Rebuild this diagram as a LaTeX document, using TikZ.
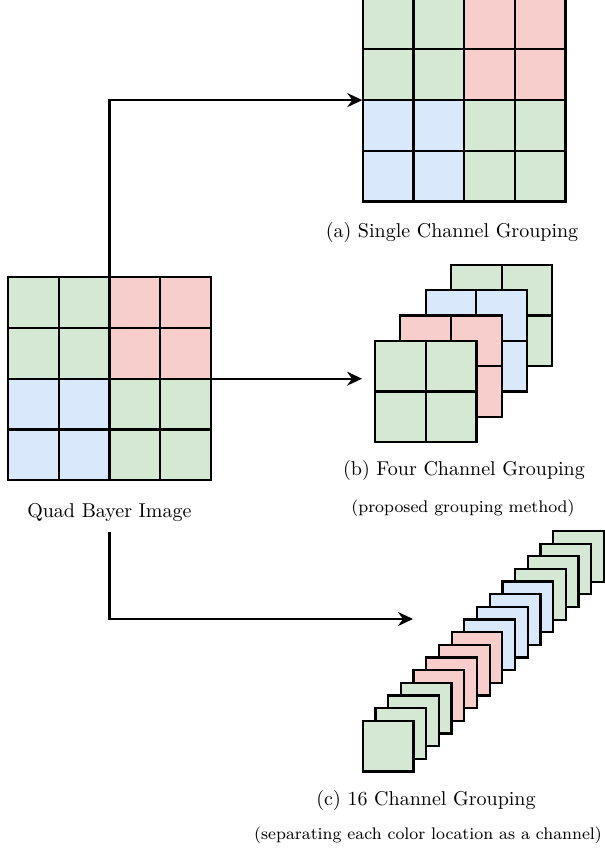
\documentclass[tikz,border=0pt]{standalone}
\usetikzlibrary{arrows.meta}

\definecolor{bayerGreen}{HTML}{D5E8D4}
\definecolor{bayerRed}{HTML}{F8CECC}
\definecolor{bayerBlue}{HTML}{DAE8FC}

\begin{document}
\begin{tikzpicture}[x = 0.5pt, y = -0.5pt,
    cell/.style = {draw = black, line width = 1.1pt},
    arrow/.style = {-{Stealth[length = 7.5pt, width = 7pt, inset = 2.5pt]}, line width = 1.1pt},
    subcaption/.style = {font = \fontsize{8.4}{10}\selectfont}]
    % Define dimensions
    \def\cellSize{50.7}   % side of one pixel
    \def\stackStep{25.3}  % shift between the four channel planes
    \def\thinStep{12.7}   % shift between the 16 channel planes

    \useasboundingbox (0,0) rectangle (604,855);

    % 4x4 quad bayer block, drawn from its top left corner
    \def\quadGrid{
        \foreach \rowColors [count = \r from 0] in
            {{bayerGreen,bayerGreen,bayerRed,bayerRed},
             {bayerGreen,bayerGreen,bayerRed,bayerRed},
             {bayerBlue,bayerBlue,bayerGreen,bayerGreen},
             {bayerBlue,bayerBlue,bayerGreen,bayerGreen}}
            \foreach \c [count = \k from 0] in \rowColors
                \draw[cell, fill = \c] (\k*\cellSize, \r*\cellSize) rectangle ++(\cellSize, \cellSize);
    }

    %Drawing input image
    \begin{scope}[shift = {(8,277.3)}]
        \quadGrid
    \end{scope}
    \node[inner sep = 0, minimum size = 101.4pt] (quad) at (109.4,378.7) {};
    \node (quadLabel) at (109.4,513) {Quad Bayer Image};

    %Drawing single channel grouping
    \begin{scope}[shift = {(362.7,-1.3)}]
        \quadGrid
    \end{scope}
    \node[inner sep = 0, minimum size = 101.4pt] (single) at (464.1,100.1) {};
    \node (singleLabel) at (452,233) {(a) Single Channel Grouping};

    %Drawing four channel grouping (back plane first)
    \foreach \n/\c in {3/bayerGreen, 2/bayerBlue, 1/bayerRed, 0/bayerGreen}
        \foreach \i in {0,1}
            \foreach \j in {0,1}
                \draw[cell, fill = \c] ({375 + \stackStep*\n + \i*\cellSize}, {340.7 - \stackStep*\n + \j*\cellSize})
                    rectangle ++(\cellSize, \cellSize);
    \coordinate (fourIn) at (362,378.7);
    \node (fourLabel) at (464,470) {(b) Four Channel Grouping};
    \node[subcaption] (fourNote) at (463,508) {(proposed grouping method)};

    %Drawing 16 channel grouping (back plane first)
    \foreach \c [count = \n] in {bayerGreen,bayerGreen,bayerGreen,bayerGreen,
                                 bayerBlue,bayerBlue,bayerBlue,bayerBlue,
                                 bayerRed,bayerRed,bayerRed,bayerRed,
                                 bayerGreen,bayerGreen,bayerGreen,bayerGreen}
        \draw[cell, fill = \c] ({362.7 + \thinStep*(16-\n)}, {720.7 - 12.65*(16-\n)})
            rectangle ++(\cellSize, \cellSize);
    \coordinate (sixteenIn) at (413,619);
    \node (sixteenLabel) at (426,800) {(c) 16 Channel Grouping};
    \node[subcaption] (sixteenNote) at (428,835) {(separating each color location as a channel)};

    %Arrows
    \draw[arrow] (quad.north) |- (single.west);
    \draw[arrow] (quad.east) -- (fourIn);
    \draw[arrow, shorten <= 1.5pt] (quadLabel.south) |- (sixteenIn);

\end{tikzpicture}
\end{document}
